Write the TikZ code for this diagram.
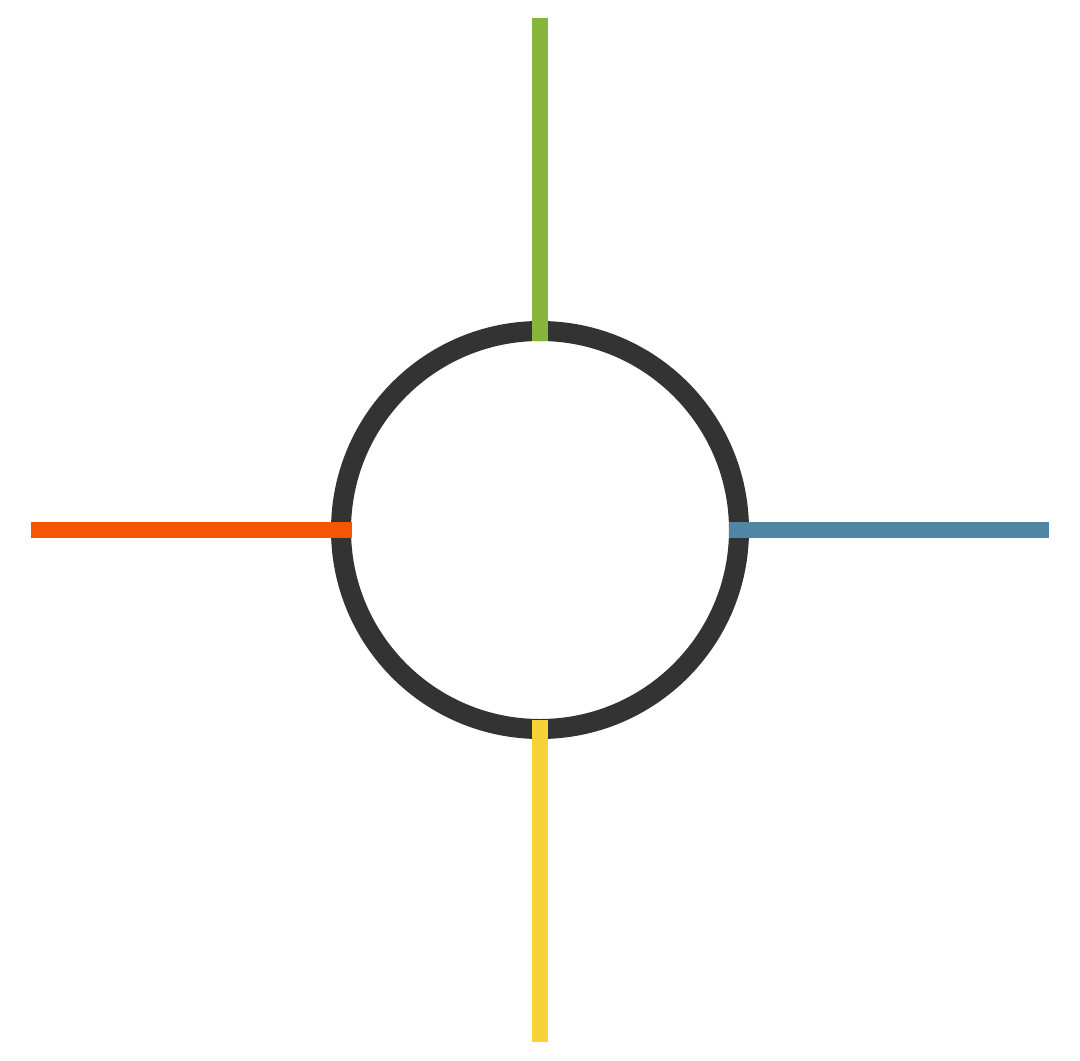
\documentclass[tikz,border=0pt]{standalone}
\definecolor{ringc}{HTML}{333333}
\definecolor{greenc}{HTML}{86B53B}
\definecolor{orangec}{HTML}{F55600}
\definecolor{bluec}{HTML}{4F86A6}
\definecolor{yellowc}{HTML}{F6D436}
\begin{document}
\begin{tikzpicture}[x=0.75pt,y=-0.75pt,
  ringstyle/.style={circle,draw=ringc,line width=15pt,minimum size=398*0.75pt,inner sep=0pt,outer sep=-7.5pt},
  spoke/.style={line width=12pt,line cap=butt}]
\useasboundingbox (0,0) rectangle (1080,1060);
\node[ringstyle] (ring) at (540,530) {};
\coordinate (gtop) at (540,18);
\coordinate (oleft) at (31,530);
\coordinate (bright) at (1049,530);
\coordinate (ybot) at (540,1042);
\draw[spoke,greenc] (gtop) -- (ring.north);
\draw[spoke,orangec] (oleft) -- ([xshift=1*0.75pt]ring.west);
\draw[spoke,bluec] (bright) -- (ring.east);
\draw[spoke,yellowc] (ybot) -- ([yshift=-1*0.75pt]ring.south);
\end{tikzpicture}
\end{document}
